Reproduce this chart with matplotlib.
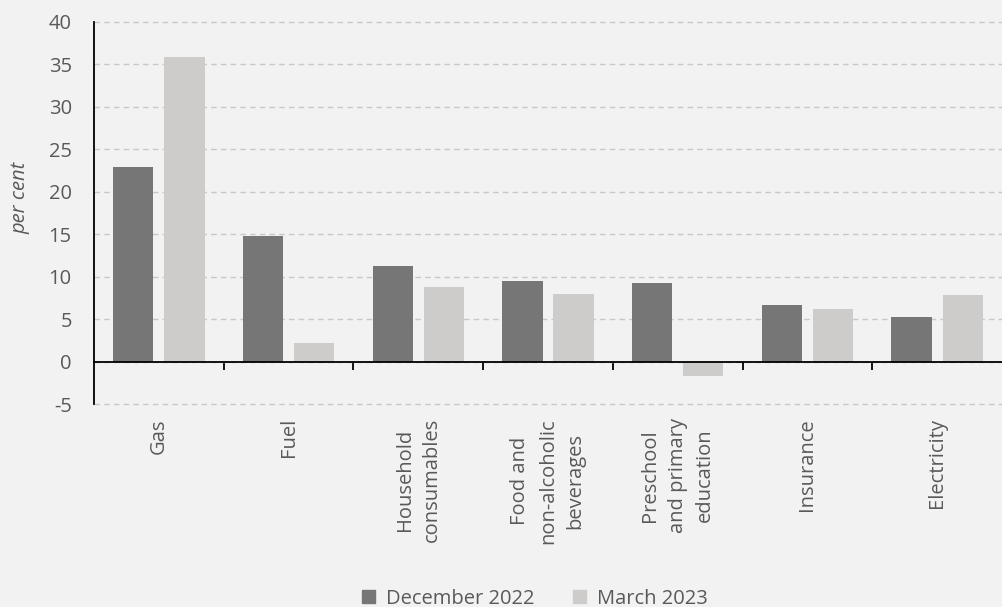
import numpy as np
import matplotlib
matplotlib.use("Agg")
import matplotlib.pyplot as plt
from matplotlib.patches import Patch

categories = ["Gas", "Fuel", "Household\nconsumables", "Food and\nnon-alcoholic\nbeverages",
              "Preschool\nand primary\neducation", "Insurance", "Electricity"]
dec_2022 = [22.9, 14.8, 11.3, 9.5, 9.3, 6.7, 5.2]
mar_2023 = [35.9, 2.2, 8.8, 7.9, -1.7, 6.2, 7.8]
series_names = ["December 2022", "March 2023"]
yticks = list(range(-5, 41, 5))

bg = "#f2f2f2"
dark = "#767676"
light = "#cdcccb"
txt = "#595959"
fs = 14.5

plt.rcParams['font.family'] = ['Open Sans', 'DejaVu Sans']

fig = plt.figure(figsize=(10.02, 6.07), dpi=100, facecolor=bg)
ax = fig.add_axes([0.0938, 0.3344, 0.9062, 0.6294], facecolor=bg)

x = np.arange(len(categories))
w = 0.31
off = 0.197
ax.bar(x - off, dec_2022, w, color=dark, zorder=3)
ax.bar(x + off, mar_2023, w, color=light, zorder=3)

ax.set_xlim(-0.5, len(categories) - 0.5)
ax.set_ylim(-5, 40)
ax.set_yticks(yticks)
ax.set_yticklabels([str(v) for v in yticks])
ax.tick_params(axis='y', length=0, pad=16, labelsize=fs, labelcolor=txt)
ax.grid(axis='y', color="#c8c8c8", linestyle=(0, (4, 3)), linewidth=1, zorder=0)
for gl in ax.get_ygridlines():
    gl.set_clip_on(False)

for s in ["top", "right"]:
    ax.spines[s].set_visible(False)
ax.spines["left"].set_color("black")
ax.spines["left"].set_linewidth(1.3)
ax.spines["bottom"].set_position(("data", 0))
ax.spines["bottom"].set_color("black")
ax.spines["bottom"].set_linewidth(1.3)
ax.spines["bottom"].set_zorder(4)

ax.set_xticks(np.arange(0.5, len(categories) - 0.5, 1))
ax.set_xticklabels([])
ax.tick_params(axis='x', direction='out', length=6, width=1.3, color="black")

for xi, lab in zip(x, categories):
    ax.text(xi, -0.037, lab, transform=ax.get_xaxis_transform(), rotation=90,
            ha='center', va='top', multialignment='center', fontsize=fs, color=txt,
            linespacing=1.5)

ax.set_ylabel("per cent", fontstyle='italic', fontsize=fs, color=txt)
ax.yaxis.set_label_coords(-0.07, 0.54)

handles = [Patch(color=dark, label=series_names[0]), Patch(color=light, label=series_names[1])]
fig.legend(handles=handles, loc='center', bbox_to_anchor=(0.534, 0.014), ncol=2,
           frameon=False, fontsize=fs, labelcolor=txt, handlelength=0.65, handleheight=0.65,
           handletextpad=0.55, columnspacing=1.9)

fig.savefig("out.png", dpi=100, facecolor=bg)
